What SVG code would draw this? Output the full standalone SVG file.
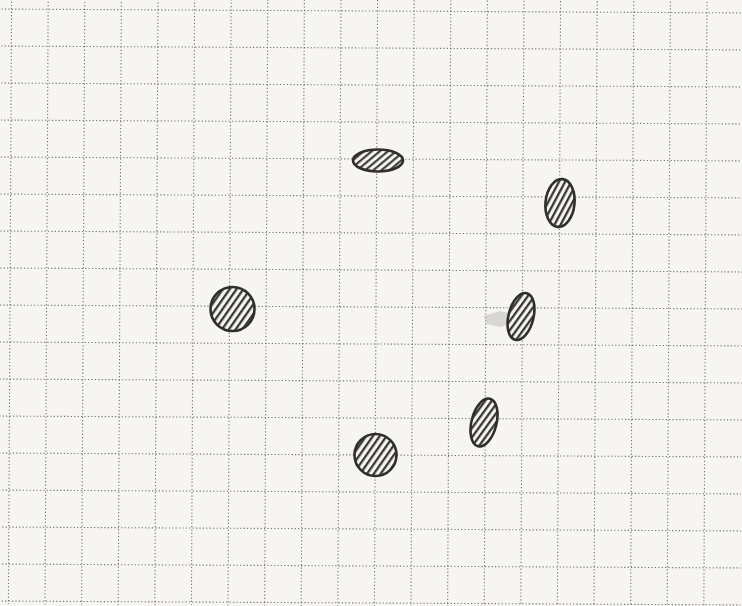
<svg xmlns="http://www.w3.org/2000/svg" width="742" height="606" viewBox="0 0 742 606">
<style>
.g{stroke:#5a5a5a;stroke-width:1.1;stroke-dasharray:1.2 2.2;fill:none;opacity:.85}
.o{stroke:#2e2e2e;stroke-width:2.6}
</style>
<defs>
<pattern id="h35" patternUnits="userSpaceOnUse" width="5.6" height="8" patternTransform="rotate(35)"><rect width="5.6" height="8" fill="#f7f5f2"/><line x1="1.2" y1="0" x2="1.2" y2="8" stroke="#2e2e2e" stroke-width="2.2"/></pattern>
<pattern id="h50" patternUnits="userSpaceOnUse" width="5.2" height="8" patternTransform="rotate(50)"><rect width="5.2" height="8" fill="#f7f5f2"/><line x1="1.2" y1="0" x2="1.2" y2="8" stroke="#2e2e2e" stroke-width="2"/></pattern>
<pattern id="h22" patternUnits="userSpaceOnUse" width="5.4" height="8" patternTransform="rotate(22)"><rect width="5.4" height="8" fill="#f7f5f2"/><line x1="1.2" y1="0" x2="1.2" y2="8" stroke="#2e2e2e" stroke-width="2.2"/></pattern>
</defs>
<rect width="742" height="606" fill="#f7f5f2"/>
<g id="grid" transform="rotate(0.3 371 303)">
<path class="g" d="M10 0V606M46.6 0V606M83.2 0V606M119.8 0V606M156.4 0V606M193 0V606M229.6 0V606M266.2 0V606M302.8 0V606M339.4 0V606M376 0V606M412.6 0V606M449.2 0V606M485.8 0V606M522.4 0V606M559 0V606M595.6 0V606M632.2 0V606M668.8 0V606M705.4 0V606"/>
<path class="g" d="M0 11H742M0 48H742M0 85H742M0 122H742M0 159H742M0 196H742M0 233H742M0 270H742M0 307H742M0 344H742M0 381H742M0 418H742M0 455H742M0 492H742M0 529H742M0 566H742M0 603H742"/>
</g>
<path id="smudge" d="M484 316 L500 311 L512 314 L514 322 L500 327 L486 324 Z" fill="#bdbdbd" opacity="0.55"/>
<g id="e1"><ellipse class="o" cx="378" cy="160.5" rx="25" ry="11" fill="url(#h50)"/></g>
<g id="e2"><ellipse class="o" cx="560" cy="203" rx="14.5" ry="24" transform="rotate(6 560 203)" fill="url(#h22)"/></g>
<g id="e3"><circle class="o" cx="232.5" cy="309" r="22" fill="url(#h35)"/></g>
<g id="e4"><ellipse class="o" cx="521" cy="316.5" rx="12.5" ry="24" transform="rotate(14 521 316.5)" fill="url(#h22)"/></g>
<g id="e5"><ellipse class="o" cx="484" cy="422.5" rx="12.5" ry="24.5" transform="rotate(14 484 422.5)" fill="url(#h22)"/></g>
<g id="e6"><circle class="o" cx="375.5" cy="455" r="21" fill="url(#h35)"/></g>
</svg>
